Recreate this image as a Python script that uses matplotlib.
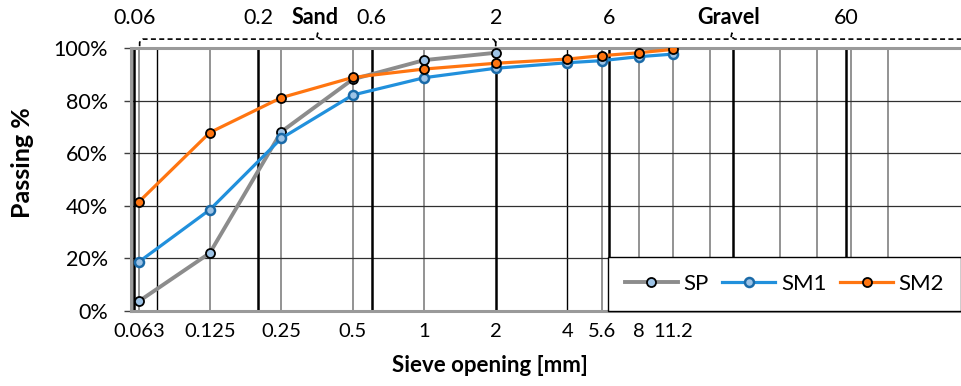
import numpy as np
import matplotlib
matplotlib.use("Agg")
import matplotlib.pyplot as plt
import matplotlib.transforms as mtransforms
from matplotlib.ticker import NullLocator

plt.rcParams['font.family'] = ['Lato', 'DejaVu Sans']

# sieve data
sieves = [0.063, 0.125, 0.25, 0.5, 1, 2, 4, 5.6, 8, 11.2]
sp = [3.7, 22.0, 68.2, 88.2, 95.5, 98.3]
sm1 = [18.7, 38.5, 65.7, 82.2, 88.8, 92.4, 94.5, 95.3, 96.8, 97.8]
sm2 = [41.6, 67.9, 81.2, 88.9, 92.1, 94.3, 95.9, 97.2, 98.3, 99.6]

tick_labels = ['0.063', '0.125', '0.25', '0.5', '1', '2', '4', '5.6', '8', '11.2']
y_ticks = [0, 20, 40, 60, 80, 100]

# reference lines
gray_lines = [0.063, 0.125, 0.25, 0.5, 1, 5.6, 8, 11.2, 16, 31.5, 45, 63, 90]
thin_black = [0.075, 4]
bounds = [0.06, 0.2, 0.6, 2, 6, 20, 60]
bound_labels = ['0.06', '0.2', '0.6', '2', '6', '', '60']

fig = plt.figure(figsize=(9.62, 3.86), dpi=100)
W, H = 962, 386
ax = fig.add_axes([131.5 / W, 1 - 310.8 / H, (968 - 131.5) / W, (310.8 - 48.3) / H])
ax.set_xscale('log')
ax.set_xlim(0.0585, 195)
ax.set_ylim(0, 100)

ax.vlines(gray_lines, 0, 100, colors='#8a8a8a', lw=1.3, zorder=1)
ax.vlines(thin_black, 0, 100, colors='black', lw=1.0, zorder=1)
ax.vlines(bounds, 0, 100, colors='black', lw=1.8, zorder=1.2)
for v in y_ticks[1:-1]:
    ax.axhline(v, color='#303030', lw=0.9, zorder=1)

for s in ['top', 'bottom', 'left']:
    ax.spines[s].set_color('#9a9a9a')
    ax.spines[s].set_linewidth(2.2)
ax.spines['right'].set_visible(False)

ax.plot(sieves[:len(sp)], sp, color='#8c8c8c', lw=2.8, marker='o', ms=6.5,
        mfc='#9dc3e6', mec='black', mew=1.3, label='SP', zorder=3)
ax.plot(sieves, sm1, color='#2190dc', lw=2.3, marker='o', ms=6.5,
        mfc='#9dc3e6', mec='#1a6aa8', mew=1.8, label='SM1', zorder=3)
ax.plot(sieves, sm2, color='#ff7510', lw=2.3, marker='o', ms=6.5,
        mfc='#ff7510', mec='black', mew=1.3, label='SM2', zorder=3)

ax.set_xticks(sieves)
ax.set_xticklabels(tick_labels)
ax.xaxis.set_minor_locator(NullLocator())
ax.tick_params(axis='x', length=0, pad=9, labelsize=14.5)
ax.set_yticks(y_ticks)
ax.set_yticklabels([f'{v}%' for v in y_ticks])
ax.tick_params(axis='y', length=5, width=1, color='#404040', pad=12, labelsize=15.5)

ax.set_xlabel('Sieve opening [mm]', fontsize=16, fontweight='bold')
ax.xaxis.set_label_coords((490 - 131.5) / (968 - 131.5), -(366 - 310.8) / 262.5)
ax.xaxis.label.set_va('center')
fig.text(23 / W, 1 - 163 / H, 'Passing %', rotation=90, fontsize=18,
         fontweight='bold', ha='center', va='center')

# top labels and braces
trans = mtransforms.blended_transform_factory(ax.transData, ax.transAxes)
ylab = (310.8 - 18) / 262.5
for b, lab in zip(bounds, bound_labels):
    if lab:
        ax.text(b, ylab, lab, transform=trans, ha='center', va='center', fontsize=15.5)


def brace(x0, x1, name):
    mid = np.sqrt(x0 * x1)
    f = 10 ** (3 / 237.6)
    xs = [x0, x0, x0 * f ** 0.5, x0 * f, mid / f, mid / f ** 0.3, mid, mid * f ** 0.3, mid * f,
          x1 / f, x1 / f ** 0.5, x1, x1]
    ys = [1.008, 1.022, 1.032, 1.035, 1.035, 1.04, 1.058, 1.04, 1.035,
          1.035, 1.032, 1.022, 1.008]
    ax.plot(xs, ys, transform=trans, color='black', lw=1.2, ls=(0, (3, 2)), clip_on=False)
    ax.text(mid / 10 ** (3 / 237.6), ylab, name, transform=trans, ha='center', va='center',
            fontsize=15.5, fontweight='bold')


brace(0.0633, 2, 'Sand')
brace(2, 195, 'Gravel')

leg = ax.legend(loc='lower left', bbox_to_anchor=((608 - 131.5) / (968 - 131.5), 0),
                ncol=3, fontsize=16, frameon=True, fancybox=False, framealpha=1,
                edgecolor='black', borderaxespad=0, borderpad=0.75, handlelength=2.4,
                handletextpad=0.25, columnspacing=0.6, markerscale=1.0)
leg.get_frame().set_linewidth(1.0)
leg.set_zorder(5)

fig.savefig('out.png', dpi=100)
